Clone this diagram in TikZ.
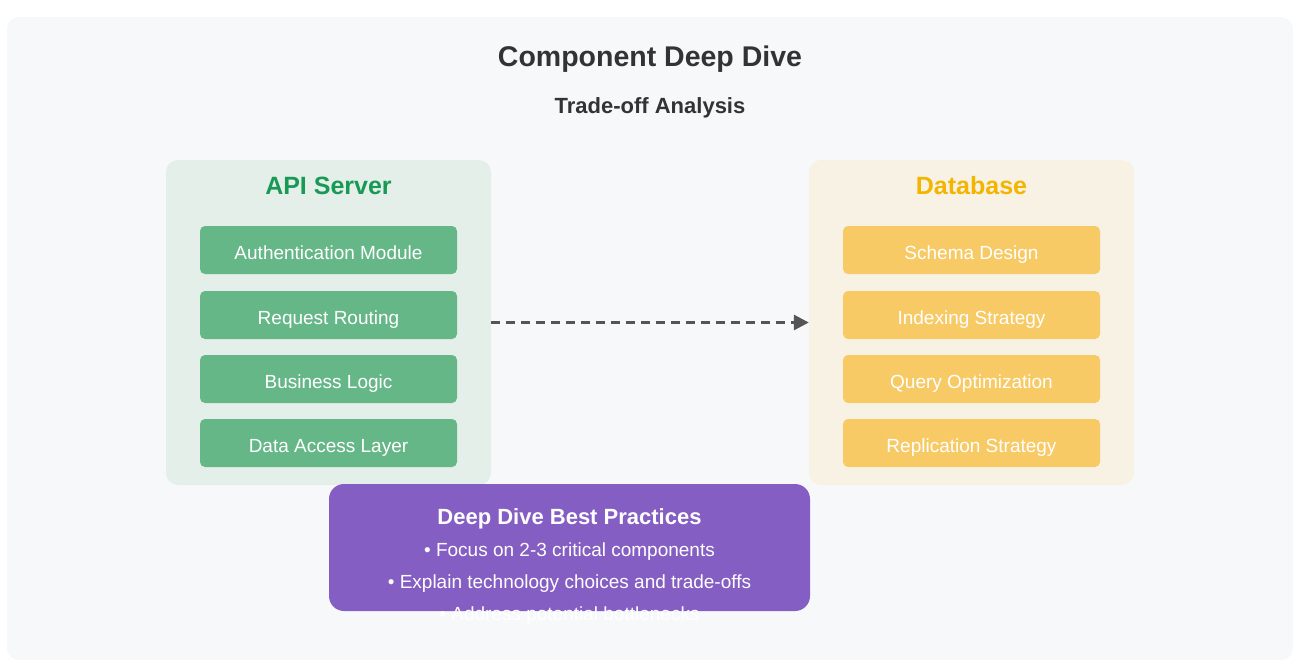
\documentclass[tikz,border=0pt]{standalone}
\usepackage{fontspec}
\setmainfont{Liberation Sans}
\usetikzlibrary{arrows.meta}
\definecolor{bgc}{RGB}{247,248,250}
\definecolor{titlec}{RGB}{51,51,51}
\definecolor{apipanel}{RGB}{229,239,233}
\definecolor{dbpanel}{RGB}{248,242,229}
\definecolor{apibox}{RGB}{102,183,135}
\definecolor{dbbox}{RGB}{248,202,102}
\definecolor{apititle}{RGB}{24,154,86}
\definecolor{dbtitle}{RGB}{243,181,0}
\definecolor{purp}{RGB}{132,94,194}
\definecolor{arrowc}{RGB}{85,85,85}
\tikzset{
  panel/.style={rounded corners=12pt, minimum width=325pt, minimum height=325pt, inner sep=0pt},
  itembox/.style={rounded corners=5pt, minimum width=257pt, minimum height=48pt, inner sep=0pt},
  itemtext/.style={anchor=base, inner sep=0pt, text=white, font=\fontsize{19}{22}\selectfont},
  paneltitle/.style={anchor=base, inner sep=0pt, font=\fontsize{25}{28}\selectfont\bfseries},
  bullet/.style={anchor=base, inner sep=0pt, text=white, font=\fontsize{19}{22}\selectfont},
}
\begin{document}
\begin{tikzpicture}[x=1pt,y=-1pt]
\useasboundingbox (0,0) rectangle (1308,670);
\fill[white] (0,0) rectangle (1308,670);
\fill[bgc] [rounded corners=12pt] (7,17) rectangle (1293,660);

\node[anchor=base, inner sep=0pt, font=\fontsize{28.5}{32}\selectfont\bfseries, text=titlec] (title) at (650,66) {Component Deep Dive};
\node[anchor=base, inner sep=0pt, font=\fontsize{22}{25}\selectfont\bfseries, text=titlec] (subtitle) at (650,113.5) {Trade-off Analysis};

% panels
\node[panel, fill=apipanel] (api) at (328.5,322.5) {};
\node[panel, fill=dbpanel] (db) at (971.5,322.5) {};
\node[paneltitle, text=apititle] (apit) at (328.5,194.3) {API Server};
\node[paneltitle, text=dbtitle] (dbt) at (971.5,194.3) {Database};

\node[itembox, fill=apibox] (a1) at (328.5,250) {};
\node[itembox, fill=apibox] (a2) at (328.5,315) {};
\node[itembox, fill=apibox] (a3) at (328.5,379) {};
\node[itembox, fill=apibox] (a4) at (328.5,443) {};
\node[itemtext] (a1t) at (328.5,259.3) {Authentication Module};
\node[itemtext] (a2t) at (328.5,324.3) {Request Routing};
\node[itemtext] (a3t) at (328.5,388.3) {Business Logic};
\node[itemtext] (a4t) at (328.5,452.3) {Data Access Layer};

\node[itembox, fill=dbbox] (d1) at (971.5,250) {};
\node[itembox, fill=dbbox] (d2) at (971.5,315) {};
\node[itembox, fill=dbbox] (d3) at (971.5,379) {};
\node[itembox, fill=dbbox] (d4) at (971.5,443) {};
\node[itemtext] (d1t) at (971.5,259.3) {Schema Design};
\node[itemtext] (d2t) at (971.5,324.3) {Indexing Strategy};
\node[itemtext] (d3t) at (971.5,388.3) {Query Optimization};
\node[itemtext] (d4t) at (971.5,452.3) {Replication Strategy};

% arrow
\draw[arrowc, line width=3pt, dash pattern=on 9pt off 6pt, -{Triangle[length=15pt,width=15pt]}]
  (api.east) -- (db.west);

% best practices
\node[fill=purp, rounded corners=15pt, minimum width=481pt, minimum height=127pt, inner sep=0pt] (bp) at (569.5,547.5) {};
\node[anchor=base, inner sep=0pt, text=white, font=\fontsize{22}{25}\selectfont\bfseries] (bpt) at (569.5,524) {Deep Dive Best Practices};
\node[bullet] (b1) at (569.5,556.7) {• Focus on 2-3 critical components};
\node[bullet] (b2) at (569.5,588.5) {• Explain technology choices and trade-offs};
\node[bullet] (b3) at (569.5,620.3) {• Address potential bottlenecks};
\end{tikzpicture}
\end{document}
